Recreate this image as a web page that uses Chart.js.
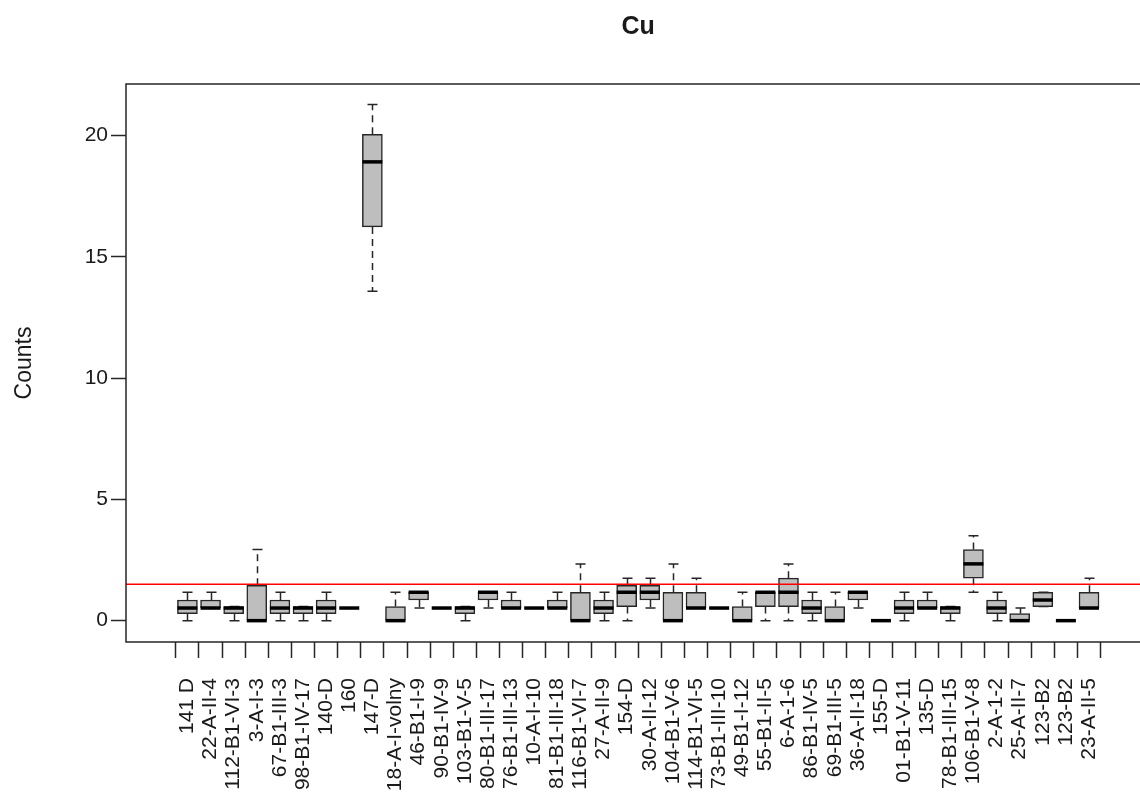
<!DOCTYPE html>
<html>
<head>
<meta charset="utf-8">
<title>Cu</title>
<script src="https://cdn.jsdelivr.net/npm/chart.js@4.4.1/dist/chart.umd.min.js"></script>
<style>
  html, body { margin: 0; padding: 0; background: #fff; }
  #wrap { width: 1140px; height: 796px; overflow: hidden; }
</style>
</head>
<body>
<div id="wrap"><canvas id="chartCu" width="1140" height="796"></canvas></div>
<script>
// Muestras (eje X)
const labels = [
  '141 D', '22-A-II-4', '112-B1-VI-3', '3-A-I-3', '67-B1-III-3', '98-B1-IV-17', '140-D', '160',
  '147-D', '18-A-I-volny', '46-B1-I-9', '90-B1-IV-9', '103-B1-V-5', '80-B1-III-17', '76-B1-III-13',
  '10-A-I-10', '81-B1-III-18', '116-B1-VI-7', '27-A-II-9', '154-D', '30-A-II-12', '104-B1-V-6',
  '114-B1-VI-5', '73-B1-III-10', '49-B1-I-12', '55-B1-II-5', '6-A-1-6', '86-B1-IV-5', '69-B1-III-5',
  '36-A-II-18', '155-D', '01-B1-V-11', '135-D', '78-B1-III-15', '106-B1-V-8', '2-A-1-2', '25-A-II-7',
  '123-B2', '123-B2', '23-A-II-5'
];

// Estadísticos del boxplot por muestra
const whiskerLow = [
  0, 0.52, 0, 0, 0, 0, 0, 0.52, 13.58, 0, 0.52, 0.52, 0, 0.52, 0.52, 0.52, 0.52, 0, 0, 0,
  0.52, 0, 0.52, 0.52, 0, 0, 0, 0, 0, 0.52, 0, 0, 0.52, 0, 1.17, 0, 0, 0.58, 0, 0.52
];
const lowerQuartile = [
  0.29, 0.52, 0.29, 0, 0.29, 0.29, 0.29, 0.52, 16.23, 0, 0.85, 0.52, 0.29, 0.85, 0.52, 0.52, 0.52, 0, 0.29, 0.58,
  0.85, 0, 0.52, 0.52, 0, 0.58, 0.58, 0.29, 0, 0.85, 0, 0.29, 0.52, 0.29, 1.75, 0.29, 0, 0.58, 0, 0.52
];
const medians = [
  0.52, 0.52, 0.52, 0, 0.52, 0.52, 0.52, 0.52, 18.91, 0, 1.17, 0.52, 0.52, 1.17, 0.52, 0.52, 0.52, 0, 0.52, 1.17,
  1.17, 0, 0.52, 0.52, 0, 1.17, 1.17, 0.52, 0, 1.17, 0, 0.52, 0.52, 0.52, 2.34, 0.52, 0, 0.85, 0, 0.52
];
const upperQuartile = [
  0.85, 0.85, 0.58, 1.46, 0.85, 0.58, 0.85, 0.52, 20.05, 0.58, 1.17, 0.52, 0.58, 1.17, 0.85, 0.52, 0.85, 1.17, 0.85, 1.46,
  1.46, 1.17, 1.17, 0.52, 0.58, 1.17, 1.75, 0.85, 0.58, 1.17, 0, 0.85, 0.85, 0.58, 2.93, 0.85, 0.29, 1.17, 0, 1.17
];
const whiskerHigh = [
  1.17, 1.17, 0.58, 2.93, 1.17, 0.58, 1.17, 0.52, 21.28, 1.17, 1.17, 0.52, 0.58, 1.17, 1.17, 0.52, 1.17, 2.34, 1.17, 1.75,
  1.75, 2.34, 1.75, 0.52, 1.17, 1.17, 2.34, 1.17, 1.17, 1.17, 0, 1.17, 1.17, 0.58, 3.5, 1.17, 0.52, 1.17, 0, 1.75
];

// Ticks del eje Y y línea de referencia
const yTicks = [0, 5, 10, 15, 20];
const limitValue = 1.5;

const FONT = '"Liberation Sans", Arial, sans-serif';
const INK = '#1a1a1a';
const LINE = '#262626';
const BOX_W = 20;

// Bigotes, medianas, marco, línea roja y título
const boxplotExtras = {
  id: 'boxplotExtras',
  beforeDatasetsDraw(chart) {
    const { ctx } = chart;
    const xs = chart.scales.x, ys = chart.scales.y;
    ctx.save();
    ctx.strokeStyle = LINE;
    ctx.lineWidth = 1.5;
    labels.forEach((_, i) => {
      const x = Math.round(xs.getPixelForValue(i + 1)) + 0.5;
      const yMin = ys.getPixelForValue(whiskerLow[i]);
      const yQ1 = ys.getPixelForValue(lowerQuartile[i]);
      const yQ3 = ys.getPixelForValue(upperQuartile[i]);
      const yMax = ys.getPixelForValue(whiskerHigh[i]);
      // tramos discontinuos
      ctx.setLineDash([7, 5]);
      ctx.beginPath();
      ctx.moveTo(x, yQ3); ctx.lineTo(x, yMax);
      ctx.moveTo(x, yQ1); ctx.lineTo(x, yMin);
      ctx.stroke();
      // topes
      ctx.setLineDash([]);
      ctx.beginPath();
      ctx.moveTo(x - BOX_W / 4, yMax); ctx.lineTo(x + BOX_W / 4, yMax);
      ctx.moveTo(x - BOX_W / 4, yMin); ctx.lineTo(x + BOX_W / 4, yMin);
      ctx.stroke();
    });
    ctx.restore();
  },
  afterDatasetsDraw(chart) {
    const { ctx, chartArea } = chart;
    const xs = chart.scales.x, ys = chart.scales.y;
    ctx.save();
    // medianas
    ctx.strokeStyle = '#000';
    ctx.lineWidth = 3.5;
    labels.forEach((_, i) => {
      const x = xs.getPixelForValue(i + 1);
      const y = ys.getPixelForValue(medians[i]);
      ctx.beginPath();
      ctx.moveTo(x - BOX_W / 2, y); ctx.lineTo(x + BOX_W / 2, y);
      ctx.stroke();
    });
    // línea de referencia
    const yRef = ys.getPixelForValue(limitValue);
    ctx.strokeStyle = '#ff0000';
    ctx.lineWidth = 1.5;
    ctx.beginPath();
    ctx.moveTo(chartArea.left, yRef); ctx.lineTo(chartArea.right, yRef);
    ctx.stroke();
    // marco del área de trazado
    ctx.strokeStyle = LINE;
    ctx.lineWidth = 1.5;
    ctx.beginPath();
    ctx.moveTo(chartArea.right + 2, chartArea.top);
    ctx.lineTo(chartArea.left, chartArea.top);
    ctx.lineTo(chartArea.left, chartArea.bottom);
    ctx.lineTo(chartArea.right + 2, chartArea.bottom);
    ctx.stroke();
    // título
    ctx.fillStyle = INK;
    ctx.font = 'bold 25px ' + FONT;
    ctx.textAlign = 'center';
    ctx.textBaseline = 'alphabetic';
    ctx.fillText('Cu', xs.getPixelForValue(20.5), 34);
    ctx.restore();
  }
};

const el = document.getElementById('chartCu');
new Chart(el, {
  type: 'bar',
  data: {
    datasets: [{
      label: 'Cu',
      data: labels.map((_, i) => ({ x: i + 1, y: [lowerQuartile[i], upperQuartile[i]] })),
      backgroundColor: '#bebebe',
      borderColor: LINE,
      borderWidth: 1.5,
      borderSkipped: false,
      barThickness: BOX_W
    }]
  },
  options: {
    responsive: false,
    animation: false,
    events: [],
    layout: { padding: { top: 84, left: 0, right: 0, bottom: 0 } },
    plugins: { legend: { display: false }, tooltip: { enabled: false }, title: { display: false } },
    scales: {
      x: {
        type: 'linear',
        min: -1.109,
        max: 41.657,
        bounds: 'data',
        afterBuildTicks: (s) => { s.ticks = labels.map((_, i) => ({ value: i + 1 })); },
        afterFit: (s) => { s.height = 154; },
        ticks: {
          autoSkip: false,
          minRotation: 90,
          maxRotation: 90,
          padding: 20,
          color: INK,
          font: { family: FONT, size: 21 },
          callback: (v) => labels[v - 1]
        },
        grid: { drawOnChartArea: false, tickLength: 16, tickColor: LINE, tickWidth: 1.5 },
        border: { display: false }
      },
      y: {
        type: 'linear',
        min: -0.88,
        max: 22.12,
        bounds: 'data',
        afterBuildTicks: (s) => { s.ticks = yTicks.map((v) => ({ value: v })); },
        afterFit: (s) => { s.width = 126; },
        ticks: {
          padding: 3,
          color: INK,
          font: { family: FONT, size: 21 }
        },
        grid: { drawOnChartArea: false, tickLength: 15, tickColor: LINE, tickWidth: 1.5 },
        border: { display: false },
        title: {
          display: true,
          text: 'Counts',
          color: INK,
          font: { family: FONT, size: 23 },
          padding: { top: 11, bottom: 0 }
        }
      }
    }
  },
  plugins: [boxplotExtras]
});
</script>
</body>
</html>
